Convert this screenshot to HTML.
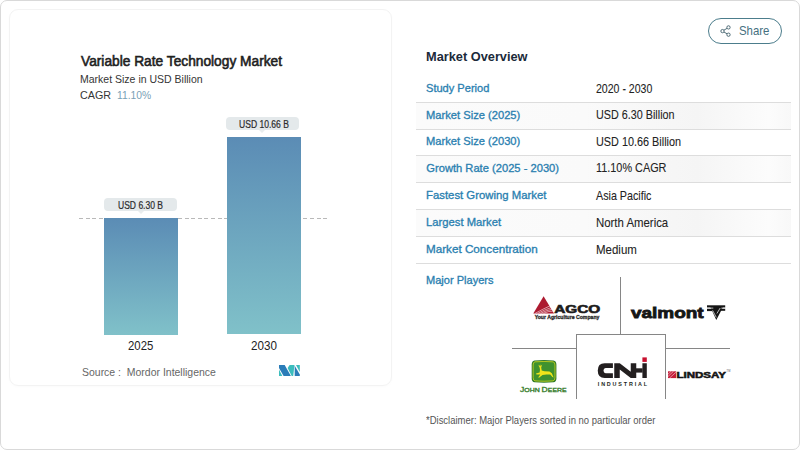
<!DOCTYPE html>
<html><head><meta charset="utf-8">
<style>
*{margin:0;padding:0;box-sizing:border-box}
html,body{width:800px;height:450px;overflow:hidden;background:#fff}
body{position:relative;font-family:"Liberation Sans",sans-serif}
.a{position:absolute;white-space:pre;line-height:1;transform-origin:0 0}
.frame{position:absolute;left:0;top:0;width:800px;height:450px;border:1px solid #d9d9d9;border-radius:7px}
.card{position:absolute;left:9px;top:9px;width:383px;height:377px;border:1px solid #f3f3f3;border-radius:9px;box-shadow:0 1px 3px rgba(0,0,0,0.02)}
.bar{position:absolute;background:linear-gradient(#5b8cb5,#80c1c9)}
.lbl{position:absolute;background:#e4e9eb;border-radius:4px}
.lbl:after{content:"";position:absolute;left:50%;bottom:-3px;margin-left:-3px;border-left:3px solid transparent;border-right:3px solid transparent;border-top:3px solid #e9edee}
.dash{position:absolute;height:1px;background:repeating-linear-gradient(90deg,#b9b9b9 0 4px,transparent 4px 6.6px)}
.sep{position:absolute;left:416px;width:375px;height:1px;background:#dddddd}
.shade{position:absolute;left:416px;width:375px;background:linear-gradient(90deg,#fbfbfb,#fafafa 45%,#f5f5f5 75%,#fcfcfc 94%,#f8f8f8)}
.ln{position:absolute;background:#868686}
</style></head><body>
<div class="frame"></div>
<div class="card"></div>

<div class="dash" style="left:79px;top:217.5px;width:248px"></div>
<div class="bar" style="left:104px;top:217.5px;width:74px;height:117px"></div>
<div class="bar" style="left:227px;top:137.3px;width:74px;height:197.2px"></div>
<div class="lbl" style="left:104px;top:198.3px;width:73px;height:12.8px"></div>
<div class="lbl" style="left:226.2px;top:117.3px;width:72.4px;height:13px"></div>

<svg style="position:absolute;left:279px;top:364.8px" width="21" height="11" viewBox="0 0 21 11">
<polygon points="0,0 5.7,0 11.9,10.9 4.6,10.9 0,3" fill="#2b7cb8"/>
<polygon points="0,4.6 0,10.9 3.3,10.9" fill="#3cbdbd"/>
<polygon points="8.6,2.9 10.6,0 15.5,0 14.2,10.9 12.7,10.9" fill="#3cbdbd"/>
<polygon points="17,0 20.8,0 20.8,7" fill="#3cbdbd"/>
<polygon points="15.7,0.7 20.8,9.5 20.8,10.9 15.7,10.9" fill="#2b7cb8"/>
</svg>


<div style="position:absolute;left:707.6px;top:18.4px;width:74px;height:25.4px;border:1px solid #4c7d8c;border-radius:13px"></div>
<svg style="position:absolute;left:719.5px;top:24.7px" width="12" height="12" viewBox="0 0 12 12" fill="none" stroke="#3f5f6b" stroke-width="0.9">
<circle cx="8.5" cy="2.4" r="1.65"/><circle cx="2.5" cy="6.1" r="1.65"/><circle cx="8.5" cy="9.7" r="1.65"/>
<line x1="3.9" y1="5.2" x2="7.1" y2="3.3"/><line x1="3.9" y1="7" x2="7.1" y2="8.8"/>
</svg>

<div class="shade" style="top:103px;height:26px"></div>
<div class="shade" style="top:156px;height:26px"></div>
<div class="shade" style="top:210px;height:26px"></div>
<div class="sep" style="top:102px"></div>
<div class="sep" style="top:129px"></div>
<div class="sep" style="top:155px"></div>
<div class="sep" style="top:182px"></div>
<div class="sep" style="top:209px"></div>
<div class="sep" style="top:236px"></div>
<div class="sep" style="top:263px"></div>

<div class="ln" style="left:620px;top:277px;width:1px;height:57px"></div>
<div class="ln" style="left:576px;top:334px;width:89px;height:1px"></div>
<div class="ln" style="left:576px;top:334px;width:1px;height:65px"></div>
<div class="ln" style="left:664.5px;top:334px;width:1px;height:65px"></div>
<div class="ln" style="left:511.5px;top:348px;width:65px;height:1px"></div>
<div class="ln" style="left:665px;top:348px;width:64.5px;height:1px"></div>

<div class="a" id="t_title" style="left:81.00px;top:53.80px;font-size:14.06px;font-weight:normal;color:#1f1f1f;transform:scaleX(0.9778);-webkit-text-stroke:0.6px #1f1f1f;">Variable Rate Technology Market</div>
<div class="a" id="t_sub" style="left:79.70px;top:73.67px;font-size:11.45px;font-weight:normal;color:#353535;transform:scaleX(0.9185);">Market Size in USD Billion</div>
<div class="a" id="t_cagr" style="left:80.00px;top:89.57px;font-size:11.45px;font-weight:normal;color:#353535;transform:scaleX(0.9389);">CAGR</div>
<div class="a" id="t_cagrv" style="left:116.80px;top:89.57px;font-size:11.45px;font-weight:normal;color:#7a9fb6;transform:scaleX(0.8993);">11.10%</div>
<div class="a" id="t_l1" style="left:117.65px;top:201.03px;font-size:10.14px;font-weight:normal;color:#2b2b2b;transform:scaleX(0.8425);-webkit-text-stroke:0.2px #2b2b2b;">USD 6.30 B</div>
<div class="a" id="t_l2" style="left:238.80px;top:120.28px;font-size:10.14px;font-weight:normal;color:#2b2b2b;transform:scaleX(0.8446);-webkit-text-stroke:0.2px #2b2b2b;">USD 10.66 B</div>
<div class="a" id="t_2025" style="left:127.70px;top:339.51px;font-size:12.46px;font-weight:normal;color:#222;transform:scaleX(0.9135);">2025</div>
<div class="a" id="t_2030" style="left:251.00px;top:339.51px;font-size:12.46px;font-weight:normal;color:#222;transform:scaleX(0.9349);">2030</div>
<div class="a" id="t_src" style="left:81.50px;top:367.19px;font-size:11.30px;font-weight:normal;color:#666;transform:scaleX(0.9270);">Source :  Mordor Intelligence</div>
<div class="a" id="t_share" style="left:739.30px;top:24.24px;font-size:13.48px;font-weight:normal;color:#45707f;transform:scaleX(0.8476);">Share</div>
<div class="a" id="t_mo" style="left:425.75px;top:50.98px;font-size:12.03px;font-weight:bold;color:#1b2a3a;transform:scaleX(1.0632);">Market Overview</div>
<div class="a" id="t_k1" style="left:426.30px;top:83.16px;font-size:11.16px;font-weight:normal;color:#2a80b0;transform:scaleX(0.9919);-webkit-text-stroke:0.32px #2a80b0;">Study Period</div>
<div class="a" id="t_k2" style="left:426.30px;top:110.01px;font-size:11.16px;font-weight:normal;color:#2a80b0;transform:scaleX(1.0004);-webkit-text-stroke:0.32px #2a80b0;">Market Size (2025)</div>
<div class="a" id="t_k3" style="left:426.30px;top:136.41px;font-size:11.16px;font-weight:normal;color:#2a80b0;transform:scaleX(1.0004);-webkit-text-stroke:0.32px #2a80b0;">Market Size (2030)</div>
<div class="a" id="t_k4" style="left:426.30px;top:163.01px;font-size:11.16px;font-weight:normal;color:#2a80b0;transform:scaleX(1.0000);-webkit-text-stroke:0.32px #2a80b0;">Growth Rate (2025 - 2030)</div>
<div class="a" id="t_k5" style="left:426.30px;top:189.81px;font-size:11.16px;font-weight:normal;color:#2a80b0;transform:scaleX(1.0170);-webkit-text-stroke:0.32px #2a80b0;">Fastest Growing Market</div>
<div class="a" id="t_k6" style="left:426.30px;top:216.81px;font-size:11.16px;font-weight:normal;color:#2a80b0;transform:scaleX(1.0081);-webkit-text-stroke:0.32px #2a80b0;">Largest Market</div>
<div class="a" id="t_k7" style="left:426.30px;top:243.61px;font-size:11.16px;font-weight:normal;color:#2a80b0;transform:scaleX(1.0466);-webkit-text-stroke:0.32px #2a80b0;">Market Concentration</div>
<div class="a" id="t_k8" style="left:426.30px;top:274.81px;font-size:11.16px;font-weight:normal;color:#2a80b0;transform:scaleX(0.9902);-webkit-text-stroke:0.32px #2a80b0;">Major Players</div>
<div class="a" id="t_v1" style="left:595.50px;top:83.60px;font-size:11.88px;font-weight:normal;color:#222;transform:scaleX(0.8890);-webkit-text-stroke:0.08px #222;">2020 - 2030</div>
<div class="a" id="t_v2" style="left:595.50px;top:110.40px;font-size:11.88px;font-weight:normal;color:#222;transform:scaleX(0.9086);-webkit-text-stroke:0.08px #222;">USD 6.30 Billion</div>
<div class="a" id="t_v3" style="left:595.50px;top:136.80px;font-size:11.88px;font-weight:normal;color:#222;transform:scaleX(0.9137);-webkit-text-stroke:0.08px #222;">USD 10.66 Billion</div>
<div class="a" id="t_v4" style="left:595.50px;top:163.40px;font-size:11.88px;font-weight:normal;color:#222;transform:scaleX(0.9149);-webkit-text-stroke:0.08px #222;">11.10% CAGR</div>
<div class="a" id="t_v5" style="left:595.50px;top:191.20px;font-size:11.88px;font-weight:normal;color:#222;transform:scaleX(0.9041);-webkit-text-stroke:0.08px #222;">Asia Pacific</div>
<div class="a" id="t_v6" style="left:595.50px;top:218.20px;font-size:11.88px;font-weight:normal;color:#222;transform:scaleX(0.9596);-webkit-text-stroke:0.08px #222;">North America</div>
<div class="a" id="t_v7" style="left:595.50px;top:245.10px;font-size:11.88px;font-weight:normal;color:#222;transform:scaleX(0.9676);-webkit-text-stroke:0.08px #222;">Medium</div>
<div class="a" id="t_disc" style="left:425.75px;top:415.08px;font-size:10.72px;font-weight:normal;color:#555;transform:scaleX(0.8834);">*Disclaimer: Major Players sorted in no particular order</div>

<svg style="position:absolute;left:0;top:0" width="800" height="450" viewBox="0 0 800 450">
<!-- AGCO -->
<polygon points="543.6,296.3 533.3,313.4 554,313.4" fill="#ad1a30"/>
<g stroke="#fff" stroke-width="0.55" fill="none">
<path d="M535.2,313.3 Q543,309 550.5,305.6"/>
<path d="M537.8,313.3 Q545,309.5 551.6,307.4"/>
<path d="M540.6,313.3 Q547,310 552.6,309.2"/>
<path d="M543.6,313.3 Q548.5,311 553.4,311"/>
</g>
<text x="554.2" y="313.3" font-family="Liberation Sans" font-weight="bold" font-size="11.2" textLength="46.1" lengthAdjust="spacingAndGlyphs" fill="#1c1c1c" stroke="#1c1c1c" stroke-width="0.6">AGCO</text>
<text x="534.7" y="319.4" font-family="Liberation Sans" font-weight="bold" font-size="5.6" textLength="64.7" lengthAdjust="spacingAndGlyphs" fill="#2a2a2a" stroke="#2a2a2a" stroke-width="0.3">Your Agriculture Company</text>
<!-- valmont -->
<text x="630.9" y="318.4" font-family="Liberation Sans" font-weight="bold" font-size="15.4" textLength="72.8" lengthAdjust="spacingAndGlyphs" fill="#151515" stroke="#151515" stroke-width="0.8">valmont</text>
<g fill="#151515">
<rect x="707" y="305.3" width="18.2" height="2.3"/>
<rect x="707" y="308.6" width="7" height="2.5"/>
<rect x="720.6" y="308.6" width="4.6" height="2.2"/>
<polygon points="710.3,307 723,307 716.3,320"/>
</g>
<g stroke="#fff" stroke-width="0.7" fill="none">
<line x1="712.6" y1="310.4" x2="716.3" y2="317.4"/>
<line x1="716.9" y1="313.5" x2="720.2" y2="308"/>
<line x1="707" y1="308.1" x2="713.3" y2="308.1"/>
<line x1="721.3" y1="308.1" x2="725.2" y2="308.1"/>
</g>
<!-- John Deere -->
<path d="M534.5,360.4 Q544,359.6 553.5,360.4 Q556.4,360.8 556.4,364.5 L556.4,378.2 Q556.4,381.9 553.5,382.3 Q544,383.1 534.5,382.3 Q531.7,381.9 531.7,378.2 L531.7,364.5 Q531.7,360.8 534.5,360.4 Z" fill="#2f7a2a"/>
<path d="M535,361.8 Q544,361.1 553,361.8 Q555,362.1 555,365 L555,377.7 Q555,380.6 553,380.9 Q544,381.6 535,380.9 Q533.1,380.6 533.1,377.7 L533.1,365 Q533.1,362.1 535,361.8 Z" fill="#3f922f" stroke="#e6e21c" stroke-width="0.7"/>
<path d="M538,364.5 L539.2,366 L540.2,364.2 L540.6,366.2 L542.2,364.6 L541.2,367.6 L541.7,370.6 L544.5,371.2 L549.5,371.6 L551.8,373.3 L553.6,377.5 L552.4,377 L550.2,374.6 L546.5,374.4 L542.5,375 L539,377.8 L538.3,377.2 L540.3,374.5 L536.5,374.4 L536,373.6 L539.6,372.6 L540,369.8 L539.6,367.6 Z" fill="#f2e51a"/>
<text x="520" y="391.9" font-family="Liberation Sans" font-size="6.6" textLength="46.7" lengthAdjust="spacingAndGlyphs" fill="#367c2b" stroke="#367c2b" stroke-width="0.3">J<tspan font-size="5.4">OHN </tspan>D<tspan font-size="5.4">EERE</tspan></text>
<!-- CNH -->
<g fill="#231f20">
<path d="M612.9,363.25 L604.6,363.25 Q597.75,363.25 597.75,370.6 Q597.75,378 604.6,378 L612.9,378 L612.9,373.2 L605.6,373.2 Q603.5,373.2 603.5,370.6 Q603.5,368.1 605.6,368.1 L612.9,368.1 Z"/>
<polygon points="614.25,378 614.25,363.25 619.75,363.25 630.75,371.8 630.75,363.25 636.25,363.25 636.25,378 630.75,378 619.75,369.6 619.75,378"/>
<rect x="636" y="368.3" width="6.6" height="4.3"/>
<rect x="642.4" y="363.25" width="4.4" height="14.75"/>
</g>
<rect x="642.4" y="357.4" width="4.4" height="4.5" fill="#c8102e"/>
<text x="597.8" y="386.1" font-family="Liberation Sans" font-weight="bold" font-size="5.4" textLength="49.2" lengthAdjust="spacing" fill="#231f20">INDUSTRIAL</text>
<!-- Lindsay -->
<rect x="668" y="371.3" width="8.2" height="6.8" fill="#c41e3a"/>
<g stroke="#fff" stroke-width="0.5">
<line x1="668" y1="376.5" x2="673.5" y2="371.3"/><line x1="668" y1="374.2" x2="671" y2="371.3"/><line x1="669.5" y1="378.1" x2="676.2" y2="372"/>
</g>
<text x="676.4" y="378.1" font-family="Liberation Sans" font-weight="bold" font-size="9.3" textLength="49.6" lengthAdjust="spacingAndGlyphs" fill="#141414" stroke="#141414" stroke-width="0.55">LINDSAY</text>
<text x="726.6" y="372.4" font-family="Liberation Sans" font-size="2.6" fill="#555">TM</text>
</svg>
</body></html>
